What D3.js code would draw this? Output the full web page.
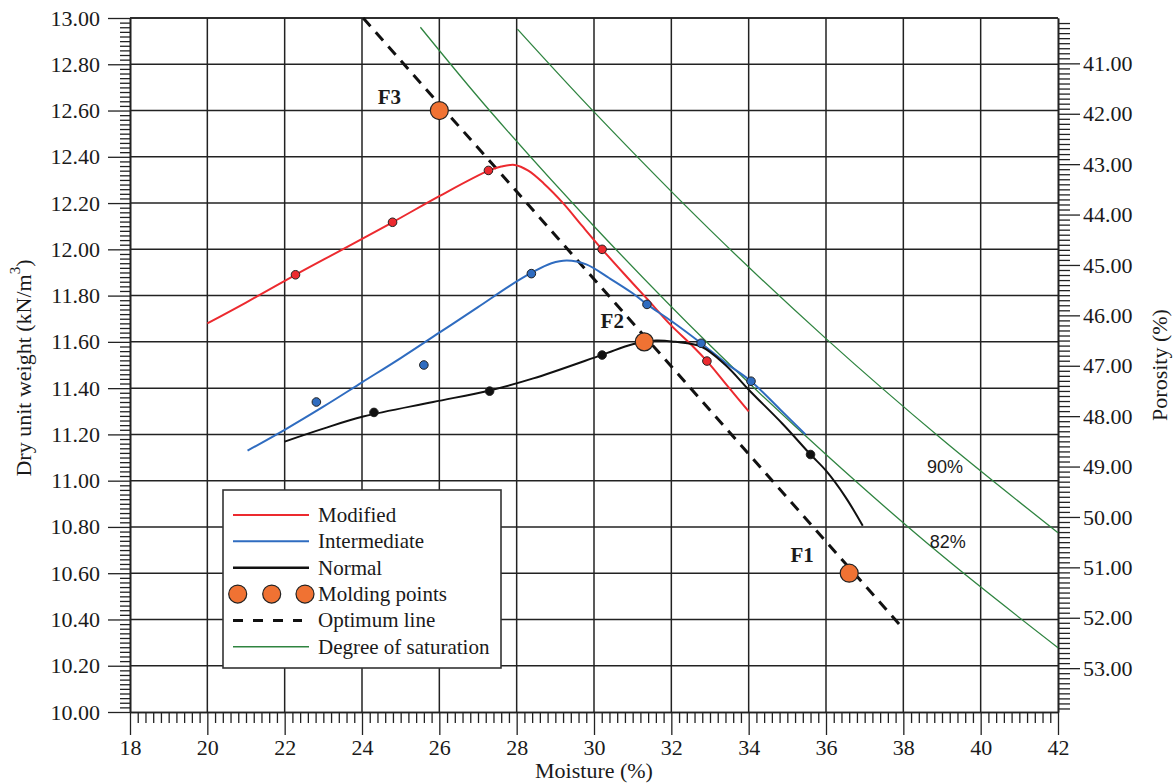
<!DOCTYPE html>
<html>
<head>
<meta charset="utf-8">
<script src="https://cdn.jsdelivr.net/npm/d3@7"></script>
<style>
  html, body { margin: 0; padding: 0; background: #fff; }
  svg { display: block; }
  text { font-family: "Liberation Serif", "Times New Roman", serif; fill: #1a1a1a; }
</style>
</head>
<body>
<svg id="chart" width="1173" height="784"></svg>
<script>
// ---------------- DATA ----------------
const xTicks = [18, 20, 22, 24, 26, 28, 30, 32, 34, 36, 38, 40, 42];
const yTicks = [10.0, 10.2, 10.4, 10.6, 10.8, 11.0, 11.2, 11.4, 11.6, 11.8, 12.0, 12.2, 12.4, 12.6, 12.8, 13.0];
const porosityTicks = [41, 42, 43, 44, 45, 46, 47, 48, 49, 50, 51, 52, 53];
const porosityDomain = [53.87, 40.10];

// Fitted compaction curves [moisture %, dry unit weight kN/m3]
const modifiedCurve = [
  [20.0, 11.68], [21.0, 11.77], [22.28, 11.89], [23.5, 12.00], [24.79, 12.117],
  [26.0, 12.23], [27.27, 12.34], [27.6, 12.358], [27.95, 12.365], [28.3, 12.34],
  [28.7, 12.285], [29.2, 12.20], [29.7, 12.10], [30.21, 12.00], [30.8, 11.89],
  [31.35, 11.79], [32.0, 11.67], [32.5, 11.59], [32.92, 11.517], [33.5, 11.40], [34.0, 11.30]
];
const intermediateCurve = [
  [21.04, 11.13], [22.0, 11.22], [23.0, 11.32], [24.0, 11.425], [25.0, 11.53],
  [26.0, 11.64], [27.0, 11.75], [27.8, 11.84], [28.4, 11.90], [28.9, 11.94],
  [29.3, 11.952], [29.8, 11.935], [30.4, 11.875], [31.0, 11.81], [31.37, 11.762],
  [32.0, 11.69], [32.77, 11.594], [33.4, 11.51], [34.06, 11.43], [34.8, 11.31], [35.47, 11.20]
];
const normalCurve = [
  [22.0, 11.169], [23.0, 11.225], [24.03, 11.277], [25.84, 11.34], [27.3, 11.39],
  [28.43, 11.442], [30.21, 11.544], [31.0, 11.59], [31.6, 11.606], [32.1, 11.60],
  [32.77, 11.58], [33.4, 11.50], [34.02, 11.39], [34.88, 11.245], [35.6, 11.113],
  [36.0, 11.043], [36.5, 10.93], [36.95, 10.805]
];

// Measured points
const modifiedPoints = [[22.28, 11.89], [24.79, 12.117], [27.27, 12.341], [30.21, 12.0], [32.92, 11.517]];
const intermediatePoints = [[22.82, 11.34], [25.6, 11.50], [28.38, 11.895], [31.37, 11.762], [32.77, 11.594], [34.06, 11.43]];
const normalPoints = [[24.31, 11.295], [27.3, 11.387], [30.21, 11.543], [35.6, 11.113]];

// Molding points
const moldingLabels = ["F1", "F2", "F3"];
const moldingMoisture = [36.6, 31.3, 26.0];
const moldingWeight = [10.6, 11.6, 12.6];

// Optimum line
const optimumLine = [[24.03, 13.0], [37.89, 10.38]];

// Degree of saturation lines
const saturation82 = [[25.51, 12.96], [27.3, 12.60], [30.0, 12.10], [33.0, 11.585], [36.0, 11.113], [39.0, 10.676], [42.0, 10.278]];
const saturation90 = [[28.02, 12.952], [30.0, 12.594], [33.0, 12.084], [36.0, 11.614], [39.0, 11.179], [42.0, 10.775]];
const saturationLabels = ["90%", "82%"];
const saturationLabelPos = [[39.08, 11.057], [39.15, 10.733]];

const legendLabels = ["Modified", "Intermediate", "Normal", "Molding points", "Optimum line", "Degree of saturation"];

// ---------------- STYLE ----------------
const C = {
  red: "#ec2a2f", blue: "#2f6cc0", black: "#111", green: "#2f8440",
  orange: "#f07233", grid: "#222"
};

const svg = d3.select("#chart");
const L = 130, R = 1058, T = 18, B = 712;
const x = d3.scaleLinear().domain([18, 42]).range([L, R]);
const y = d3.scaleLinear().domain([10, 13]).range([B, T]);
const yR = d3.scaleLinear().domain(porosityDomain).range([B, T]);

// Grid
const grid = svg.append("g");
grid.selectAll("line.v").data(xTicks.slice(1, -1)).join("line")
  .attr("x1", d => x(d)).attr("x2", d => x(d)).attr("y1", T).attr("y2", B)
  .attr("stroke", C.grid).attr("stroke-width", 1.5);
grid.selectAll("line.h").data(yTicks.slice(1)).join("line")
  .attr("x1", L).attr("x2", R).attr("y1", d => y(d)).attr("y2", d => y(d))
  .attr("stroke", C.grid).attr("stroke-width", 1.5);

// Axes
function styleAxis(g) {
  g.attr("font-family", null);
  g.select(".domain").attr("stroke", C.grid).attr("stroke-width", 1.6);
  g.selectAll(".tick line").attr("stroke", C.grid).attr("stroke-width", 1.3);
  g.selectAll("text").attr("fill", "#1a1a1a").style("font-size", "22px")
    .style("font-family", '"Liberation Serif", "Times New Roman", serif');
}
const eps = 1e-6;
const xMinor = d3.range(18, 42.0001, 0.2).filter(v => Math.abs(v / 2 - Math.round(v / 2)) > eps);
const yMinor = d3.range(10, 13.0001, 0.02).filter(v => Math.abs(v / 0.2 - Math.round(v / 0.2)) > 1e-4);
const rMinor = d3.range(40.2, 53.85, 0.1).filter(v => Math.abs(v - Math.round(v)) > 1e-4);

svg.append("g").attr("transform", `translate(0,${B})`)
  .call(d3.axisBottom(x).tickValues(xMinor).tickSize(11).tickFormat("").tickSizeOuter(0))
  .call(styleAxis);
svg.append("g").attr("transform", `translate(0,${B})`)
  .call(d3.axisBottom(x).tickValues(xTicks).tickSize(23).tickPadding(4).tickFormat(d3.format("d")).tickSizeOuter(0))
  .call(styleAxis);

svg.append("g").attr("transform", `translate(${L},0)`)
  .call(d3.axisLeft(y).tickValues(yMinor).tickSize(10).tickFormat("").tickSizeOuter(0))
  .call(styleAxis);
svg.append("g").attr("transform", `translate(${L},0)`)
  .call(d3.axisLeft(y).tickValues(yTicks).tickSize(22).tickPadding(8).tickFormat(d3.format(".2f")).tickSizeOuter(0))
  .call(styleAxis);

svg.append("g").attr("transform", `translate(${R},0)`)
  .call(d3.axisRight(yR).tickValues(rMinor).tickSize(12).tickFormat("").tickSizeOuter(0))
  .call(styleAxis);
svg.append("g").attr("transform", `translate(${R},0)`)
  .call(d3.axisRight(yR).tickValues(porosityTicks).tickSize(22).tickPadding(3).tickFormat(d3.format(".2f")).tickSizeOuter(0))
  .call(styleAxis);

// top border
svg.append("line").attr("x1", L).attr("x2", R).attr("y1", T).attr("y2", T)
  .attr("stroke", C.grid).attr("stroke-width", 1.6);

// Axis titles
svg.append("text").attr("x", (L + R) / 2).attr("y", 778).attr("text-anchor", "middle")
  .style("font-size", "22px").text("Moisture (%)");
const lt = svg.append("text").attr("transform", "translate(23,368) rotate(-90)")
  .attr("text-anchor", "middle").attr("dominant-baseline", "central").style("font-size", "22px");
lt.append("tspan").text("Dry unit weight (kN/m");
lt.append("tspan").attr("dy", -8).style("font-size", "15px").text("3");
lt.append("tspan").attr("dy", 8).text(")");
svg.append("text").attr("transform", "translate(1159,365) rotate(-90)")
  .attr("text-anchor", "middle").attr("dominant-baseline", "central").style("font-size", "22px")
  .text("Porosity (%)");

// Lines
const line = d3.line().x(d => x(d[0])).y(d => y(d[1]));
const smooth = d3.line().x(d => x(d[0])).y(d => y(d[1])).curve(d3.curveCatmullRom.alpha(0.5));

svg.append("path").datum(saturation82).attr("d", smooth).attr("fill", "none")
  .attr("stroke", C.green).attr("stroke-width", 1.3);
svg.append("path").datum(saturation90).attr("d", smooth).attr("fill", "none")
  .attr("stroke", C.green).attr("stroke-width", 1.3);

svg.append("path").datum(optimumLine).attr("d", line).attr("fill", "none")
  .attr("stroke", C.black).attr("stroke-width", 3).attr("stroke-dasharray", "11 8");

svg.append("path").datum(modifiedCurve).attr("d", smooth).attr("fill", "none")
  .attr("stroke", C.red).attr("stroke-width", 2);
svg.append("path").datum(intermediateCurve).attr("d", smooth).attr("fill", "none")
  .attr("stroke", C.blue).attr("stroke-width", 2);
svg.append("path").datum(normalCurve).attr("d", smooth).attr("fill", "none")
  .attr("stroke", C.black).attr("stroke-width", 2);

function dots(data, fill) {
  svg.append("g").selectAll("circle").data(data).join("circle")
    .attr("cx", d => x(d[0])).attr("cy", d => y(d[1])).attr("r", 4.3)
    .attr("fill", fill).attr("stroke", "#222").attr("stroke-width", 1);
}
dots(normalPoints, C.black);
dots(modifiedPoints, C.red);
dots(intermediatePoints, C.blue);

// Molding points
const labelOffsets = [[-47, -11], [-32, -14], [-50, -7]];
const mold = svg.append("g");
moldingLabels.forEach((lab, i) => {
  const cx = x(moldingMoisture[i]), cy = y(moldingWeight[i]);
  mold.append("circle").attr("cx", cx).attr("cy", cy).attr("r", 9)
    .attr("fill", C.orange).attr("stroke", "#222").attr("stroke-width", 1.2);
  mold.append("text").attr("x", cx + labelOffsets[i][0]).attr("y", cy + labelOffsets[i][1])
    .attr("text-anchor", "middle").style("font-size", "21px").style("font-weight", "bold").text(lab);
});

// Saturation labels
saturationLabels.forEach((lab, i) => {
  svg.append("text").attr("x", x(saturationLabelPos[i][0])).attr("y", y(saturationLabelPos[i][1]))
    .attr("text-anchor", "middle").attr("dominant-baseline", "central")
    .style("font-family", '"Liberation Sans", Arial, sans-serif').style("font-size", "18px").text(lab);
});

// Legend
const lg = svg.append("g");
lg.append("rect").attr("x", 223).attr("y", 490).attr("width", 278).attr("height", 178)
  .attr("fill", "#fff").attr("stroke", "#333").attr("stroke-width", 1.6);
const legendStyles = [
  {type: "line", color: C.red, w: 2},
  {type: "line", color: C.blue, w: 2},
  {type: "line", color: C.black, w: 2.4},
  {type: "dots"},
  {type: "dash", color: C.black, w: 3},
  {type: "line", color: C.green, w: 1.3}
];
legendLabels.forEach((lab, i) => {
  const yy = 515 + i * 26.35;
  const s = legendStyles[i];
  if (s.type === "dots") {
    [237.7, 271.7, 305].forEach(cx => lg.append("circle").attr("cx", cx).attr("cy", yy).attr("r", 9)
      .attr("fill", C.orange).attr("stroke", "#222").attr("stroke-width", 1.2));
  } else {
    lg.append("line").attr("x1", 233).attr("x2", s.type === "dash" ? 302 : 309).attr("y1", yy).attr("y2", yy)
      .attr("stroke", s.color).attr("stroke-width", s.w)
      .attr("stroke-dasharray", s.type === "dash" ? "10 10" : null);
  }
  lg.append("text").attr("x", 318).attr("y", yy).attr("dominant-baseline", "central")
    .style("font-size", "21px").text(lab);
});
</script>
</body>
</html>
